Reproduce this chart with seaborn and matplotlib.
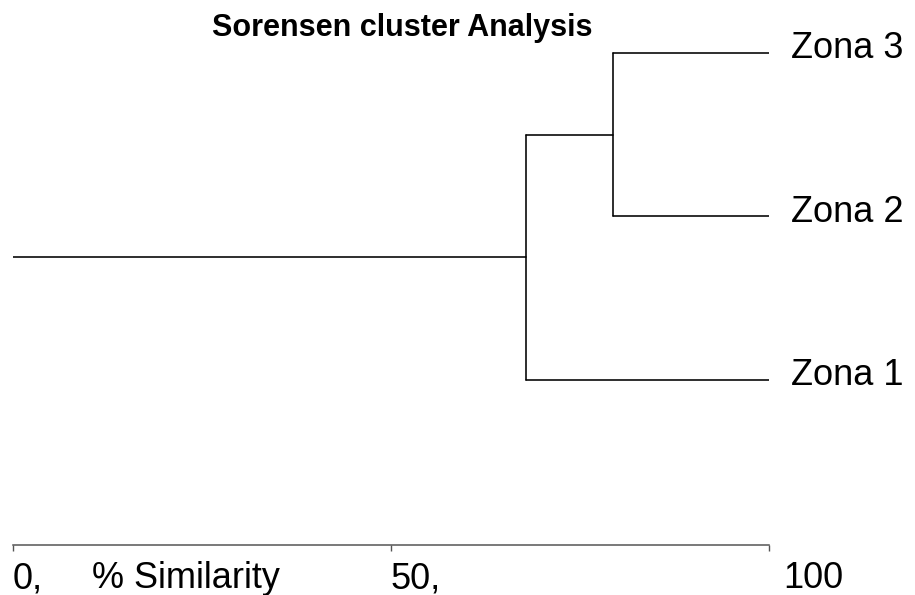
import matplotlib
matplotlib.use("Agg")
import matplotlib.pyplot as plt
import matplotlib.transforms as mtrans
import seaborn as sns
import pandas as pd

# ---- data ----
leaves = ["Zona 1", "Zona 2", "Zona 3"]          # bottom to top
merge_left = ["Zona 2", "Zona 1"]
merge_right = ["Zona 3", "C1"]
merge_names = ["C1", "C2"]
merge_similarity = [79.4, 67.9]                  # % similarity at which clusters join
leaf_similarity = 100
root_similarity = 0
tick_values = [0, 50, 100]
tick_labels = ["0,", "50,", "100"]
title = "Sorensen cluster Analysis"
axis_label = "% Similarity"

sns.set_theme(style="white")
plt.rcParams["font.family"] = ["Liberation Sans", "DejaVu Sans"]
plt.rcParams["text.color"] = "black"
plt.rcParams["xtick.color"] = "black"

# ---- build segments ----
pos = {name: i for i, name in enumerate(leaves)}
height = {name: leaf_similarity for name in leaves}
rows = []
seg = 0
for a, b, name, h in zip(merge_left, merge_right, merge_names, merge_similarity):
    for child in (a, b):
        rows.append((seg, height[child], pos[child])); rows.append((seg, h, pos[child])); seg += 1
    rows.append((seg, h, pos[a])); rows.append((seg, h, pos[b])); seg += 1
    pos[name] = (pos[a] + pos[b]) / 2
    height[name] = h
root = merge_names[-1]
rows.append((seg, height[root], pos[root])); rows.append((seg, root_similarity, pos[root]))
df = pd.DataFrame(rows, columns=["seg", "sim", "y"])

fig = plt.figure(figsize=(9.15, 5.95), dpi=100)
ax = fig.add_axes([12.8 / 915, 50 / 595, 755.7 / 915, 545 / 595])
sns.lineplot(data=df, x="sim", y="y", units="seg", estimator=None, sort=False,
             color="black", linewidth=1.15, ax=ax, legend=False)

ax.set_xlim(0, 100)
ax.set_ylim(-1.008, 2.322)
for s in ["top", "right", "left"]:
    ax.spines[s].set_visible(False)
ax.spines["bottom"].set_color("#555555")
ax.spines["bottom"].set_linewidth(1.1)
ax.set_yticks([])
ax.set_ylabel("")
ax.set_xlabel("")
ax.set_xticks(tick_values)
ax.set_xticklabels(tick_labels, fontsize=26, ha="left", color="black")
tick_len, tick_pad = 4, 7.6
ax.tick_params(axis="x", direction="out", length=tick_len, width=1, color="#555555",
               labelcolor="black", pad=tick_pad, bottom=True)
lab = ax.get_xticklabels()[-1]
lab.set_transform(lab.get_transform() + mtrans.ScaledTranslation(15 / 100, 0, fig.dpi_scale_trans))

label_trans = mtrans.blended_transform_factory(ax.transData, ax.transAxes) + \
    mtrans.ScaledTranslation(0, -(tick_len + tick_pad) / 72, fig.dpi_scale_trans)
ax.text(10.5, 0, axis_label, fontsize=26, ha="left", va="top", color="black",
        transform=label_trans)

for name in leaves:
    ax.annotate(name, xy=(leaf_similarity, pos[name]), xytext=(16, 3),
                textcoords="offset points", ha="left", va="center", color="black",
                fontsize=26, annotation_clip=False)

fig.text(402 / 915, 1 - 28 / 595, title, ha="center", va="center",
         fontsize=22, fontweight="bold", color="black")

fig.savefig("out.png", dpi=100, facecolor="white")
